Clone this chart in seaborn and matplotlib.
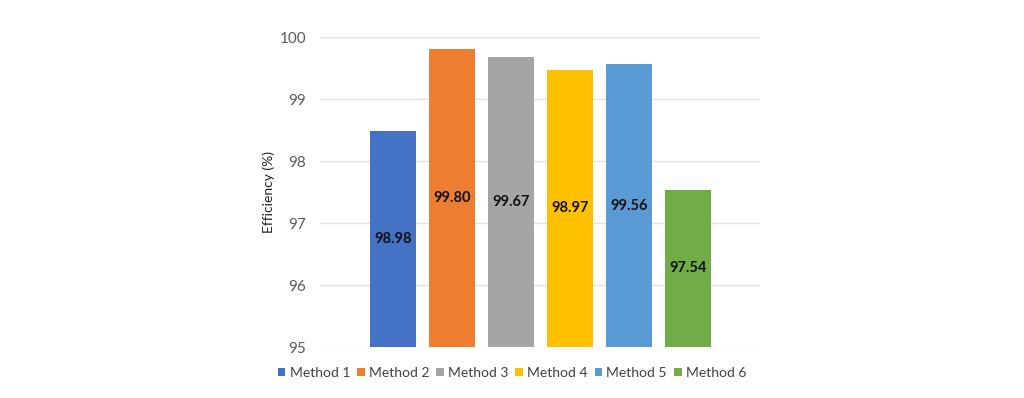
import matplotlib
matplotlib.use("Agg")
import matplotlib.pyplot as plt
import seaborn as sns
import pandas as pd
from matplotlib.patches import Patch

methods = ["Method 1", "Method 2", "Method 3", "Method 4", "Method 5", "Method 6"]
bar_heights = [98.48, 99.80, 99.67, 99.47, 99.56, 97.54]
bar_labels = ["98.98", "99.80", "99.67", "98.97", "99.56", "97.54"]
colors = ["#4472C4", "#ED7D31", "#A5A5A5", "#FFC000", "#5B9BD5", "#70AD47"]
y_ticks = [95, 96, 97, 98, 99, 100]

sns.set_theme(style="white")
plt.rcParams['font.family'] = ['Lato', 'DejaVu Sans']

df = pd.DataFrame({"method": methods, "eff": bar_heights})
fig = plt.figure(figsize=(10.24, 3.98), dpi=100)
ax = fig.add_axes([0.3125, 0.128, 0.4297, 0.779])

base = y_ticks[0]
sns.barplot(x=df["method"], y=df["eff"] - base, hue=df["method"], palette=colors,
            width=0.78, ax=ax, legend=False, saturation=1, bottom=base,
            linewidth=0, edgecolor="none")

ax.set_ylim(95, 100)
ax.set_xlim(-1.24, 6.22)
ax.set_yticks(y_ticks)
ax.set_yticklabels([str(t) for t in y_ticks], fontsize=11, color="#595959")
ax.set_xticks([])
ax.set_xlabel("")
ax.set_ylabel("Efficiency (%)", fontsize=10, color="#222222", labelpad=3)
ax.tick_params(axis="y", length=0, pad=10)
ax.grid(axis="y", color="#E3E3E3", linewidth=1)
ax.set_axisbelow(True)
for s in ax.spines.values():
    s.set_visible(False)

for p, lab in zip(ax.patches, bar_labels):
    cx = p.get_x() + p.get_width() / 2
    cy = p.get_y() + p.get_height() / 2
    ax.text(cx, cy, lab, ha="center", va="center", fontsize=10.5,
            fontweight="bold", color="#111111")

handles = [Patch(facecolor=c, edgecolor="none", label=m) for m, c in zip(methods, colors)]
fig.legend(handles=handles, loc="center", bbox_to_anchor=(0.5, 0.063), ncol=6,
           frameon=False, fontsize=10, handlelength=0.55, handleheight=0.55,
           handletextpad=0.3, columnspacing=0.5, labelcolor="#404040")

fig.savefig("out.png", dpi=100)
